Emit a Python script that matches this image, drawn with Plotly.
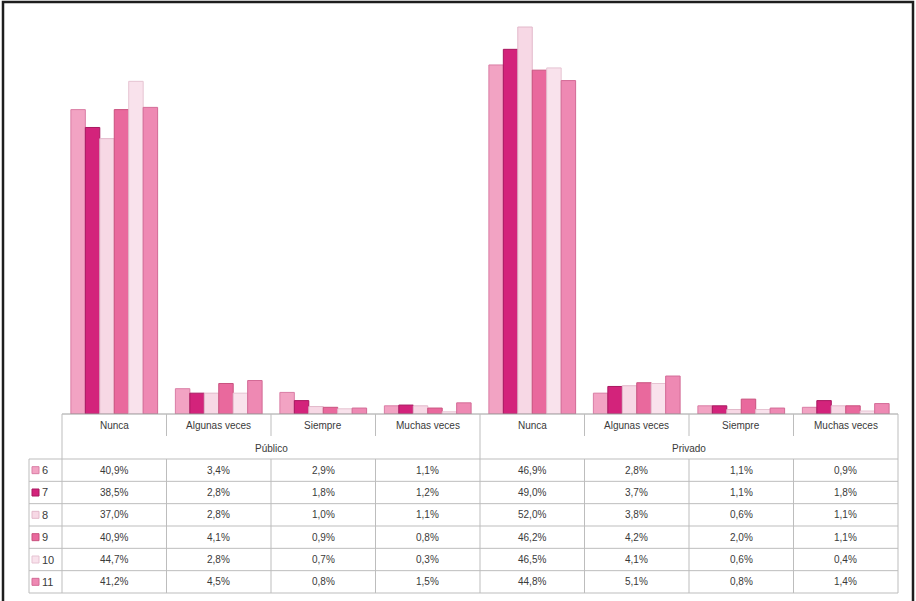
import plotly.graph_objects as go

W, H = 916, 601

# ---------------- data ----------------
groups = ["Público", "Privado"]
answers = ["Nunca", "Algunas veces", "Siempre", "Muchas veces"]
series_names = ["6", "7", "8", "9", "10", "11"]

v6 = [40.9, 3.4, 2.9, 1.1, 46.9, 2.8, 1.1, 0.9]
v7 = [38.5, 2.8, 1.8, 1.2, 49.0, 3.7, 1.1, 1.8]
v8 = [37.0, 2.8, 1.0, 1.1, 52.0, 3.8, 0.6, 1.1]
v9 = [40.9, 4.1, 0.9, 0.8, 46.2, 4.2, 2.0, 1.1]
v10 = [44.7, 2.8, 0.7, 0.3, 46.5, 4.1, 0.6, 0.4]
v11 = [41.2, 4.5, 0.8, 1.5, 44.8, 5.1, 0.8, 1.4]
series_values = [v6, v7, v8, v9, v10, v11]

# ---------------- style ----------------
colors = ["#f2a3c3", "#d3237b", "#f7d8e5", "#e9699d", "#f9e2ec", "#ee89b3"]
edges = ["#d97ea5", "#a81860", "#e2b8ca", "#c9527f", "#e6c3d2", "#d36a96"]
FONT = "Liberation Sans Narrow, Liberation Sans, Arial, sans-serif"
TXT = "#3a3a3a"
GRID = "#bdbdbd"

def px(x):
    return x / W

def py(y):
    return 1 - y / H

left_col, right_col = 62, 898
unit = (right_col - left_col) / 8
def xu(p):
    return (p - left_col) / unit - 0.5

x_lo, x_hi = -1.0, 7.55
dom_l = left_col + (x_lo + 0.5) * unit
dom_r = left_col + (x_hi + 0.5) * unit

base_px, top_px = 414, 20
ymax = 52.0 * (base_px - top_px) / (base_px - 27)

cats = list(range(len(answers) * len(groups)))

fig = go.Figure()
for name, vals, c, e in zip(series_names, series_values, colors, edges):
    fig.add_trace(go.Bar(
        x=cats, y=vals, name=name, showlegend=False,
        marker=dict(color=c, line=dict(color=e, width=1)),
        xaxis="x", yaxis="y", hoverinfo="name+y",
    ))

# ---------------- table ----------------
t_top, t_hdr, t_grp = 414, 436, 459
row_h = (593 - t_grp) / len(series_names)
row_edges = [t_grp + row_h * k for k in range(len(series_names) + 1)]
t_bot = row_edges[-1]

shapes = []
def line(x0, y0, x1, y1, xref="x", yref="y2", color=GRID, w=1):
    shapes.append(dict(type="line", xref=xref, yref=yref, x0=x0, y0=y0, x1=x1, y1=y1,
                       line=dict(color=color, width=w), layer="above"))

legend_left = xu(29)
line(-0.5, t_top, 7.5, t_top, color="#9e9e9e")
for yy in row_edges:
    line(legend_left, yy, 7.5, yy)
line(-0.5, t_top, -0.5, t_bot)
line(7.5, t_top, 7.5, t_bot)
line(3.5, t_top, 3.5, t_bot)
line(legend_left, t_grp, legend_left, t_bot)
for b in [0.5, 1.5, 2.5, 4.5, 5.5, 6.5]:
    line(b, t_top, b, t_hdr)
    line(b, t_grp, b, t_bot)

shapes.append(dict(type="rect", xref="paper", yref="paper",
                   x0=px(3), x1=px(913), y0=py(2), y1=py(620),
                   line=dict(color="#1e1e1e", width=2.5), fillcolor="rgba(0,0,0,0)"))

annotations = []
def txt(x, y, s, xanchor="center", size=10):
    annotations.append(dict(x=x, y=y, xref="x", yref="y2", text=s, showarrow=False,
                            xanchor=xanchor, yanchor="middle",
                            font=dict(family=FONT, size=size, color=TXT)))

for gi, g in enumerate(groups):
    for ai, a in enumerate(answers):
        txt(gi * len(answers) + ai, (t_top + t_hdr) / 2 + 1, a)
    txt(gi * len(answers) + 1.5, (t_hdr + t_grp) / 2 + 1, g)

def fmt(v):
    return f"{v:.1f}".replace(".", ",") + "%"

for r, (name, vals) in enumerate(zip(series_names, series_values)):
    yc = (row_edges[r] + row_edges[r + 1]) / 2
    for i, v in enumerate(vals):
        txt(cats[i], yc, fmt(v))
    txt(xu(40), yc, name, xanchor="left", size=11)

row_centers = [(row_edges[k] + row_edges[k + 1]) / 2 for k in range(len(series_names))]
fig.add_trace(go.Scatter(
    x=[xu(35.5)] * len(series_names), y=row_centers, mode="markers",
    marker=dict(symbol="square", size=7, color=colors, line=dict(color=edges, width=1)),
    xaxis="x", yaxis="y2", showlegend=False, hoverinfo="skip",
))

fig.update_layout(
    width=W, height=H,
    margin=dict(l=0, r=0, t=0, b=0),
    paper_bgcolor="white", plot_bgcolor="rgba(0,0,0,0)",
    barmode="group", bargap=0.17, bargroupgap=0.0,
    xaxis=dict(domain=[px(dom_l), px(dom_r)], range=[x_lo, x_hi], showgrid=False,
               zeroline=False, showticklabels=False, showline=False, ticks=""),
    yaxis=dict(domain=[py(base_px), py(top_px)], range=[0, ymax], showgrid=False,
               zeroline=False, showticklabels=False, showline=False, ticks=""),
    yaxis2=dict(domain=[py(598), py(410)], range=[598, 410], anchor="x", showgrid=False,
                zeroline=False, showticklabels=False, showline=False, ticks=""),
    shapes=shapes, annotations=annotations,
    font=dict(family=FONT),
)

fig.write_html(
    "out.html",
    config={"displayModeBar": False},
    post_script="document.body.style.margin='0';document.body.style.overflow='hidden';",
)
